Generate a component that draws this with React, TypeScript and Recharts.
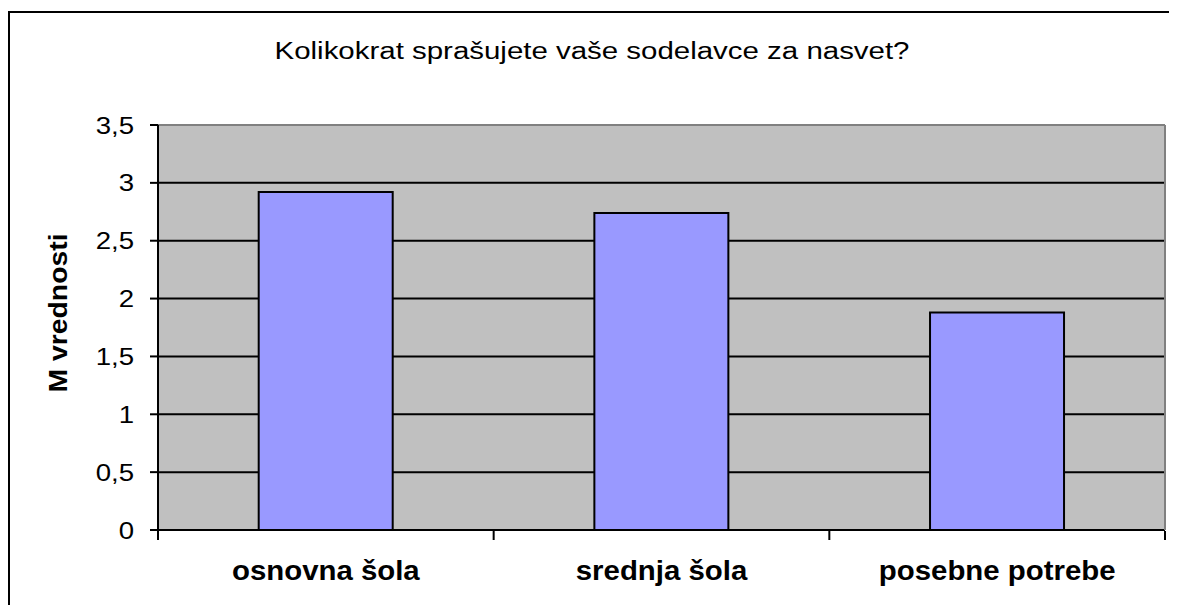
import React from "react";
import { Bar, BarChart, CartesianGrid, XAxis, YAxis } from "recharts";

// means per school type
const categories = ["osnovna šola", "srednja šola", "posebne potrebe"];
const means = [2.92, 2.74, 1.88];
const yTicks = [0, 0.5, 1, 1.5, 2, 2.5, 3, 3.5];
const boundaryTicks = [0, 1, 2, 3];

const title = "Kolikokrat sprašujete vaše sodelavce za nasvet?";
const yLabel = "M vrednosti";

const FONT = "'Liberation Sans', Arial, sans-serif";

const data = categories.map((name, i) => ({ name, value: means[i], idx: i + 0.5 }));

function YTick({ x, y, payload }: any) {
  const label = String(payload.value).replace(".", ",");
  return (
    <text
      transform={`translate(${x},${y}) scale(1.15,1)`}
      textAnchor="end"
      dy="0.36em"
      fontSize={24}
      fontFamily={FONT}
      fill="#000"
    >
      {label}
    </text>
  );
}

function XTick({ x, y, payload }: any) {
  return (
    <text
      transform={`translate(${x},${y + 42}) scale(1.05,1)`}
      textAnchor="middle"
      fontSize={28}
      fontWeight="bold"
      fontFamily={FONT}
      fill="#000"
    >
      {payload.value}
    </text>
  );
}

function NoLabel() {
  return <g />;
}

function YLabel() {
  return (
    <text
      transform="translate(59,305) rotate(-90) scale(1.09,1)"
      textAnchor="middle"
      fontSize={26}
      fontWeight="bold"
      fontFamily={FONT}
      fill="#000"
    >
      {yLabel}
    </text>
  );
}

export default function App() {
  return (
    <div style={{ position: "relative", width: 1169, height: 597 }}>
      <div
        style={{
          position: "absolute",
          left: 0,
          top: 3,
          width: 1169,
          height: 594,
          borderLeft: "2px solid #000",
          borderTop: "2px solid #000",
          boxSizing: "border-box",
        }}
      />
      <div
        style={{
          position: "absolute",
          left: 0,
          top: 30,
          width: 1169,
          textAlign: "center",
          fontFamily: FONT,
          fontSize: 23,
          color: "#000",
        }}
      >
        <span style={{ display: "inline-block", transform: "scaleX(1.28)" }}>{title}</span>
      </div>
      <div style={{ position: "absolute", left: 0, top: 0 }}>
        <BarChart
          width={1169}
          height={597}
          data={data}
          margin={{ top: 116, right: 11, bottom: 73, left: 70 }}
          barCategoryGap="30%"
        >
          <CartesianGrid vertical={false} fill="#C0C0C0" stroke="#000" strokeWidth={2} />
          <XAxis
            dataKey="name"
            height={1}
            axisLine={{ stroke: "#000", strokeWidth: 2 }}
            tickLine={false}
            tick={<XTick />}
            interval={0}
          />
          <XAxis
            xAxisId="ticks"
            type="number"
            dataKey="idx"
            domain={[0, 3]}
            ticks={boundaryTicks}
            height={1}
            axisLine={false}
            tick={<NoLabel />}
            tickLine={{ stroke: "#000", strokeWidth: 2 }}
            tickSize={9}
          />
          <XAxis
            xAxisId="top"
            orientation="top"
            dataKey="name"
            height={1}
            tick={false}
            tickLine={false}
            axisLine={{ stroke: "#808080", strokeWidth: 2 }}
          />
          <YAxis
            domain={[0, 3.5]}
            ticks={yTicks}
            width={80}
            axisLine={{ stroke: "#000", strokeWidth: 2 }}
            tickLine={{ stroke: "#000", strokeWidth: 2 }}
            tickSize={8}
            tickMargin={16}
            tick={<YTick />}
            interval={0}
            label={{ content: <YLabel /> }}
          />
          <YAxis
            yAxisId="right"
            orientation="right"
            domain={[0, 3.5]}
            width={1}
            tick={false}
            tickLine={false}
            axisLine={{ stroke: "#808080", strokeWidth: 2 }}
          />
          <Bar
            dataKey="value"
            fill="#9999FF"
            stroke="#000"
            strokeWidth={2}
            isAnimationActive={false}
          />
        </BarChart>
      </div>
    </div>
  );
}
